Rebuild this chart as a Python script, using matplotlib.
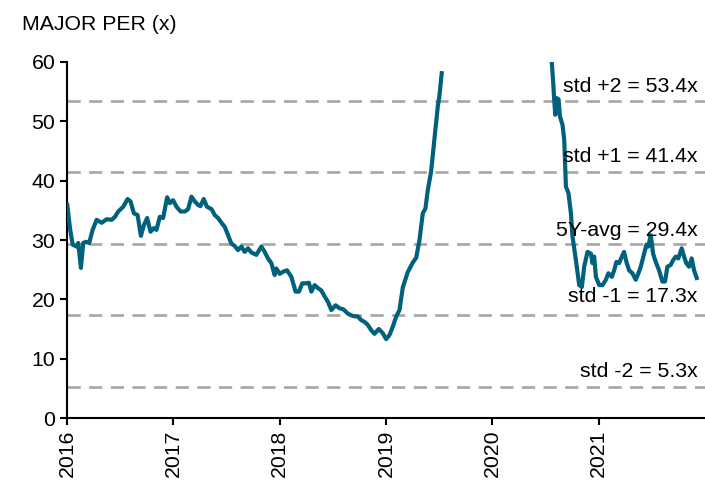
import numpy as np
import matplotlib
matplotlib.use('Agg')
import matplotlib.pyplot as plt

plt.rcParams['font.family'] = ['Liberation Sans', 'DejaVu Sans']

# PER series, time in decimal years (gap while PER was off the chart)
years = [
    2016.003, 2016.028, 2016.054, 2016.091, 2016.106, 2016.131, 2016.153, 2016.178, 2016.209, 2016.241,
    2016.279, 2016.326, 2016.373, 2016.420, 2016.451, 2016.482, 2016.529, 2016.570, 2016.598, 2016.629,
    2016.664, 2016.695, 2016.723, 2016.754, 2016.786, 2016.817, 2016.842, 2016.873, 2016.904, 2016.942,
    2016.967, 2016.998, 2017.030, 2017.068, 2017.108, 2017.139, 2017.171, 2017.202, 2017.233, 2017.255,
    2017.286, 2017.317, 2017.359, 2017.390, 2017.421, 2017.453, 2017.484, 2017.515, 2017.546, 2017.577,
    2017.608, 2017.640, 2017.671, 2017.702, 2017.734, 2017.781, 2017.828, 2017.859, 2017.890, 2017.922,
    2017.953, 2017.969, 2018.000, 2018.038, 2018.069, 2018.110, 2018.150, 2018.181, 2018.213, 2018.251,
    2018.275, 2018.298, 2018.329, 2018.360, 2018.392, 2018.423, 2018.454, 2018.486, 2018.526, 2018.563,
    2018.601, 2018.641, 2018.688, 2018.735, 2018.767, 2018.798, 2018.829, 2018.861, 2018.892, 2018.932,
    2018.970, 2019.002, 2019.033, 2019.064, 2019.096, 2019.127, 2019.158, 2019.205, 2019.252, 2019.284,
    2019.315, 2019.346, 2019.371, 2019.393, 2019.424, 2019.455, 2019.487, 2019.502, 2019.524,
    2020.000,
    2020.557, 2020.573, 2020.582, 2020.592, 2020.604, 2020.623, 2020.636, 2020.660, 2020.676, 2020.685,
    2020.692, 2020.716, 2020.739, 2020.754, 2020.786, 2020.817, 2020.842, 2020.864, 2020.895, 2020.927,
    2020.942, 2020.958, 2020.974, 2021.005, 2021.036, 2021.068, 2021.092, 2021.124, 2021.146, 2021.167,
    2021.192, 2021.218, 2021.239, 2021.261, 2021.286, 2021.317, 2021.349, 2021.374, 2021.396, 2021.427,
    2021.449, 2021.467, 2021.490, 2021.512, 2021.537, 2021.568, 2021.599, 2021.624, 2021.646, 2021.678,
    2021.700, 2021.725, 2021.749, 2021.781, 2021.803, 2021.824, 2021.850, 2021.875, 2021.897, 2021.922,
]
per = [
    35.9, 32.0, 29.2, 28.9, 29.5, 25.3, 29.5, 29.7, 29.5, 31.7,
    33.4, 32.9, 33.5, 33.4, 33.9, 34.8, 35.6, 36.9, 36.5, 34.5,
    34.2, 30.7, 32.5, 33.7, 31.4, 32.0, 31.7, 33.9, 33.7, 37.2,
    36.2, 36.7, 35.6, 34.8, 34.8, 35.2, 37.3, 36.5, 35.9, 35.7,
    36.9, 35.6, 35.2, 34.2, 33.7, 32.9, 32.2, 30.8, 29.4, 29.0,
    28.3, 28.9, 28.0, 28.6, 27.9, 27.5, 28.9, 28.0, 26.9, 26.1,
    24.1, 25.2, 24.3, 24.7, 24.9, 23.8, 21.3, 21.3, 22.7, 22.7,
    22.8, 21.3, 22.4, 21.9, 21.5, 20.5, 19.6, 18.2, 19.0, 18.5,
    18.3, 17.6, 17.2, 17.1, 16.5, 16.2, 15.7, 14.8, 14.2, 15.0,
    14.3, 13.3, 14.0, 15.4, 17.1, 18.2, 22.0, 24.6, 26.2, 27.0,
    30.0, 34.5, 35.3, 38.4, 41.5, 46.9, 52.5, 54.2, 58.1,
    np.nan,
    60.5, 56.4, 53.6, 51.1, 53.9, 53.7, 50.8, 49.4, 46.9, 42.4,
    39.0, 37.9, 34.5, 30.6, 26.6, 22.4, 22.1, 25.5, 28.0, 27.7,
    26.1, 27.2, 23.8, 22.4, 22.4, 23.3, 24.4, 23.8, 24.9, 26.3,
    26.1, 27.2, 28.0, 26.3, 24.9, 24.4, 23.3, 24.4, 25.5, 27.7,
    29.2, 28.9, 30.8, 27.7, 26.3, 24.9, 23.0, 23.0, 25.5, 25.8,
    26.6, 27.2, 26.9, 28.6, 27.2, 26.1, 25.5, 26.9, 24.9, 23.6,
]

band_values = [53.4, 41.4, 29.4, 17.3, 5.3]
band_labels = ['std +2 = 53.4x', 'std +1 = 41.4x', '5Y-avg = 29.4x', 'std -1 = 17.3x', 'std -2 = 5.3x']
band_offsets = [2.4, 2.6, 2.2, 3.1, 2.5]  # label height above its line

tick_years = [2016, 2017, 2018, 2019, 2020, 2021]
fs = 15.3

fig = plt.figure(figsize=(7.05, 4.8), dpi=100)
ax = fig.add_axes([0.095, 0.129, 0.905, 0.742])

for v in band_values:
    ax.axhline(v, color='#A6A6A6', lw=1.9, ls=(0, (5, 3.2)), zorder=1)

ax.plot(years, per, color='#00617D', lw=3.0, zorder=3)

for v, lab, off in zip(band_values, band_labels, band_offsets):
    ax.text(2021.93, v + off, lab, ha='right', va='center', fontsize=fs, color='black', zorder=4)

ax.set_xlim(2016, 2022)
ax.set_ylim(0, 60)
ax.set_xticks(tick_years)
ax.set_xticklabels([str(y) for y in tick_years], rotation=90, fontsize=fs)
ax.set_yticks(range(0, 61, 10))
ax.tick_params(axis='y', labelsize=fs, length=5, width=1.5, direction='out')
ax.tick_params(axis='x', length=5, width=1.5, direction='out')

for s in ['top', 'right']:
    ax.spines[s].set_visible(False)
for s in ['left', 'bottom']:
    ax.spines[s].set_linewidth(1.5)

fig.text(22 / 705, 1 - 25 / 480, 'MAJOR PER (x)', fontsize=fs, ha='left', va='center')

plt.savefig('out.png', dpi=100)
